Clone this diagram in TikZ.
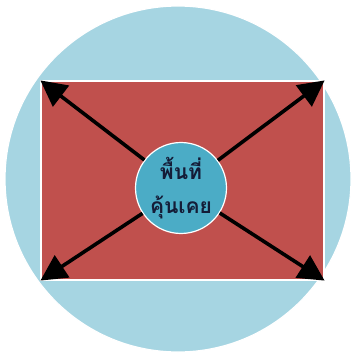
\documentclass[tikz,border=0pt]{standalone}
\usepackage{fontspec}
\newfontfamily\thaifont[Script=Thai]{Loma}
\usetikzlibrary{positioning,arrows.meta}
\definecolor{skyblue}{RGB}{166,213,226}
\definecolor{brickred}{RGB}{192,80,77}
\definecolor{aqua}{RGB}{75,172,198}
\definecolor{inktext}{RGB}{20,28,55}

\begin{document}
\begin{tikzpicture}[
    x=1pt, y=-1pt,
    disc/.style={circle, draw=white, line width=1.2pt, inner sep=0pt},
    field/.style={rectangle, draw=white, line width=1.2pt, fill=brickred},
    arrow/.style={-{Triangle[length=26pt, width=26pt]}, line width=3.6pt, black}
]
\useasboundingbox (0,0) rectangle (353,358);
\node[disc, fill=skyblue, minimum size=346pt] (outer) at (178,179) {};
\node[field, minimum width=283pt, minimum height=199pt] (area) at (182.5,180.5) {};
\node[disc, fill=aqua, minimum size=91pt, align=center, text=inktext,
      font=\thaifont\bfseries\fontsize{21}{34}\selectfont] (zone) at (181,188) {พื้นที่\\คุ้นเคย};
\draw[arrow] (zone) -- (area.north west);
\draw[arrow] (zone) -- (area.north east);
\draw[arrow] (zone) -- (area.south west);
\draw[arrow] (zone) -- (area.south east);
\end{tikzpicture}
\end{document}
